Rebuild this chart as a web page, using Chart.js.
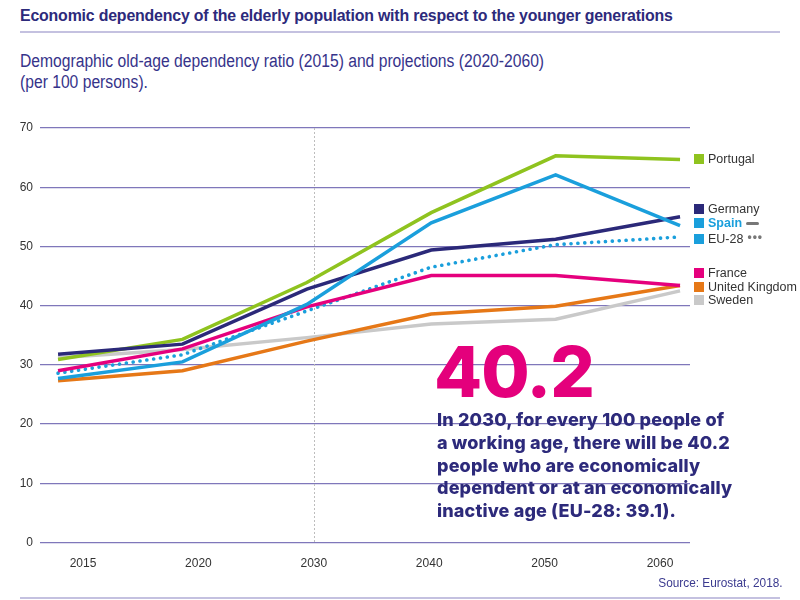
<!DOCTYPE html>
<html>
<head>
<meta charset="utf-8">
<script src="https://cdn.jsdelivr.net/npm/chart.js@4/dist/chart.umd.min.js"></script>
<style>
  html, body { margin: 0; padding: 0; background: #fff; }
  #wrap { position: relative; width: 800px; height: 600px; overflow: hidden; font-family: "Liberation Sans", Arial, sans-serif; }
  #chart { position: absolute; left: 0; top: 0; }
  .title { position: absolute; left: 20px; top: 6px; font-family: "Liberation Sans", sans-serif; font-weight: bold; font-size: 17px; color: #2d2a7b; letter-spacing: -0.2px; white-space: nowrap; transform: scaleX(0.935); transform-origin: left top; }
  .rule { position: absolute; left: 20px; width: 760px; height: 2px; background: #c4c1e0; }
  .sub { position: absolute; left: 20px; top: 51px; font-family: "Liberation Sans", sans-serif; font-size: 18px; line-height: 21px; color: #36338a; white-space: nowrap; transform: scaleX(0.87); transform-origin: left top; }
  .big { position: absolute; left: 434px; top: 332px; font-family: Inter, "Liberation Sans", sans-serif; font-weight: 800; font-size: 70px; line-height: 80px; color: #e4007c; letter-spacing: -1px; }
  .para { position: absolute; left: 437px; top: 409px; font-family: Inter, "Liberation Sans", sans-serif; font-weight: 800; font-size: 18px; line-height: 22.8px; color: #2d2a7b; letter-spacing: 0.15px; white-space: nowrap; }
  .src { position: absolute; right: 17px; top: 575px; font-family: "Liberation Sans", sans-serif; font-size: 13px; color: #3b3a8f; transform: scaleX(0.91); transform-origin: right top; }
  .leg { position: absolute; left: 694px; font-size: 12.5px; color: #333; white-space: nowrap; line-height: 14px; }
  .leg i { display: inline-block; width: 10px; height: 10px; margin-right: 4px; vertical-align: -1px; }
  .leg .mk { display: inline-block; margin-left: 4px; vertical-align: middle; }
</style>
</head>
<body>
<div id="wrap">
  <div class="title">Economic dependency of the elderly population with respect to the younger generations</div>
  <div class="rule" style="top:31px"></div>
  <div class="sub">Demographic old-age dependency ratio (2015) and projections (2020-2060)<br>(per 100 persons).</div>
  <canvas id="chart" width="800" height="600"></canvas>
  <div id="legend"></div>
  <div class="big">40.2</div>
  <div class="para">In 2030, for every 100 people of<br>a working age, there will be 40.2<br>people who are economically<br>dependent or at an economically<br>inactive age (EU-28: 39.1).</div>
  <div class="src">Source: Eurostat, 2018.</div>
  <div class="rule" style="top:597px"></div>
</div>
<script>
  const years = ["2015", "2020", "2030", "2040", "2050", "2060"];
  const yTicks = [0, 10, 20, 30, 40, 50, 60, 70];

  const portugal = [30.9, 34.3, 43.9, 55.7, 65.3, 64.7];
  const germany = [31.8, 33.5, 42.8, 49.4, 51.2, 55.0];
  const spain = [27.7, 30.5, 40.2, 54.0, 62.1, 53.5];
  const eu28 = [28.6, 31.7, 39.1, 46.5, 50.3, 51.6];
  const france = [29.0, 32.7, 39.8, 45.1, 45.1, 43.4];
  const uk = [27.3, 29.0, 34.0, 38.6, 39.9, 43.4];
  const sweden = [31.2, 32.6, 34.6, 36.9, 37.7, 42.5];

  const COLORS = {
    portugal: "#8fc31f",
    germany: "#2b2979",
    spain: "#1a9fdc",
    france: "#e5007d",
    uk: "#e67817",
    sweden: "#c9c9c9",
  };

  // legend on the right, grouped like the original
  const legendItems = [
    { label: "Portugal", color: COLORS.portugal, y: 159 },
    { label: "Germany", color: COLORS.germany, y: 209 },
    { label: "Spain", color: COLORS.spain, y: 223, spain: true },
    { label: "EU-28", color: COLORS.spain, y: 237, eu: true },
    { label: "France", color: COLORS.france, y: 273 },
    { label: "United Kingdom", color: COLORS.uk, y: 287 },
    { label: "Sweden", color: COLORS.sweden, y: 300 },
  ];

  function buildLegend() {
    const box = document.getElementById("legend");
    legendItems.forEach((it) => {
      const d = document.createElement("div");
      d.className = "leg";
      d.style.top = it.y - 7 + "px";
      let html = `<i style="background:${it.color}"></i>`;
      if (it.spain) {
        html += `<span style="color:${COLORS.spain};font-weight:bold">${it.label}</span>`;
        html += `<span class="mk" style="width:13px;height:3px;background:#777;border-radius:2px"></span>`;
      } else if (it.eu) {
        html += it.label;
        html += `<span class="mk" style="letter-spacing:1px;color:#777;font-weight:bold;font-size:12px;vertical-align:2px">&bull;&bull;&bull;</span>`;
      } else {
        html += it.label;
      }
      d.innerHTML = html;
      box.appendChild(d);
    });
  }

  function line(label, data, color, extra) {
    return Object.assign(
      {
        label,
        data,
        borderColor: color,
        backgroundColor: color,
        borderWidth: 3.5,
        pointRadius: 0,
        tension: 0,
        xAxisID: "x",
      },
      extra || {}
    );
  }

  const refLine2030 = {
    id: "refLine2030",
    beforeDatasetsDraw(chart) {
      const { ctx, chartArea } = chart;
      const x = chart.scales.xl.getPixelForValue(years.indexOf("2030"));
      ctx.save();
      ctx.strokeStyle = "#bdbdbd";
      ctx.lineWidth = 1;
      ctx.setLineDash([2, 2]);
      ctx.beginPath();
      ctx.moveTo(Math.round(x) + 0.5, chartArea.top);
      ctx.lineTo(Math.round(x) + 0.5, chartArea.bottom);
      ctx.stroke();
      ctx.restore();
    },
  };

  buildLegend();

  new Chart(document.getElementById("chart"), {
    type: "line",
    data: {
      labels: years.map((_, i) => i),
      datasets: [
        line("Spain", spain, COLORS.spain),
        line("Germany", germany, COLORS.germany),
        line("Portugal", portugal, COLORS.portugal),
        line("France", france, COLORS.france),
        line("EU-28", eu28, COLORS.spain, {
          borderDash: [0.1, 6.8],
          borderCapStyle: "round",
          borderWidth: 3.6,
        }),
        line("United Kingdom", uk, COLORS.uk),
        line("Sweden", sweden, COLORS.sweden),
      ],
    },
    options: {
      responsive: false,
      animation: false,
      layout: { padding: { left: 0, right: 110, top: 128, bottom: 27.5 } },
      plugins: { legend: { display: false }, tooltip: { enabled: false } },
      scales: {
        x: {
          type: "linear",
          display: false,
          min: -0.145,
          max: 5.08,
        },
        xl: {
          type: "linear",
          position: "bottom",
          min: -0.373,
          max: 5.26,
          grid: { display: false },
          border: { display: false },
          afterFit: (s) => { s.height = 30; },
          afterBuildTicks: (s) => { s.ticks = years.map((_, i) => ({ value: i })); },
          ticks: {
            padding: 6,
            color: "#333",
            font: { family: "Liberation Sans", size: 12 },
            maxRotation: 0,
            callback: (v) => years[v],
          },
        },
        y: {
          min: 0,
          max: 70,
          afterFit: (s) => { s.width = 40; },
          afterBuildTicks: (s) => { s.ticks = yTicks.map((v) => ({ value: v })); },
          grid: { color: "#7f77ba", lineWidth: 1.3, drawTicks: false },
          border: { display: false },
          ticks: {
            padding: 7,
            color: "#333",
            font: { family: "Liberation Sans", size: 12 },
          },
        },
      },
    },
    plugins: [refLine2030],
  });
</script>
</body>
</html>
